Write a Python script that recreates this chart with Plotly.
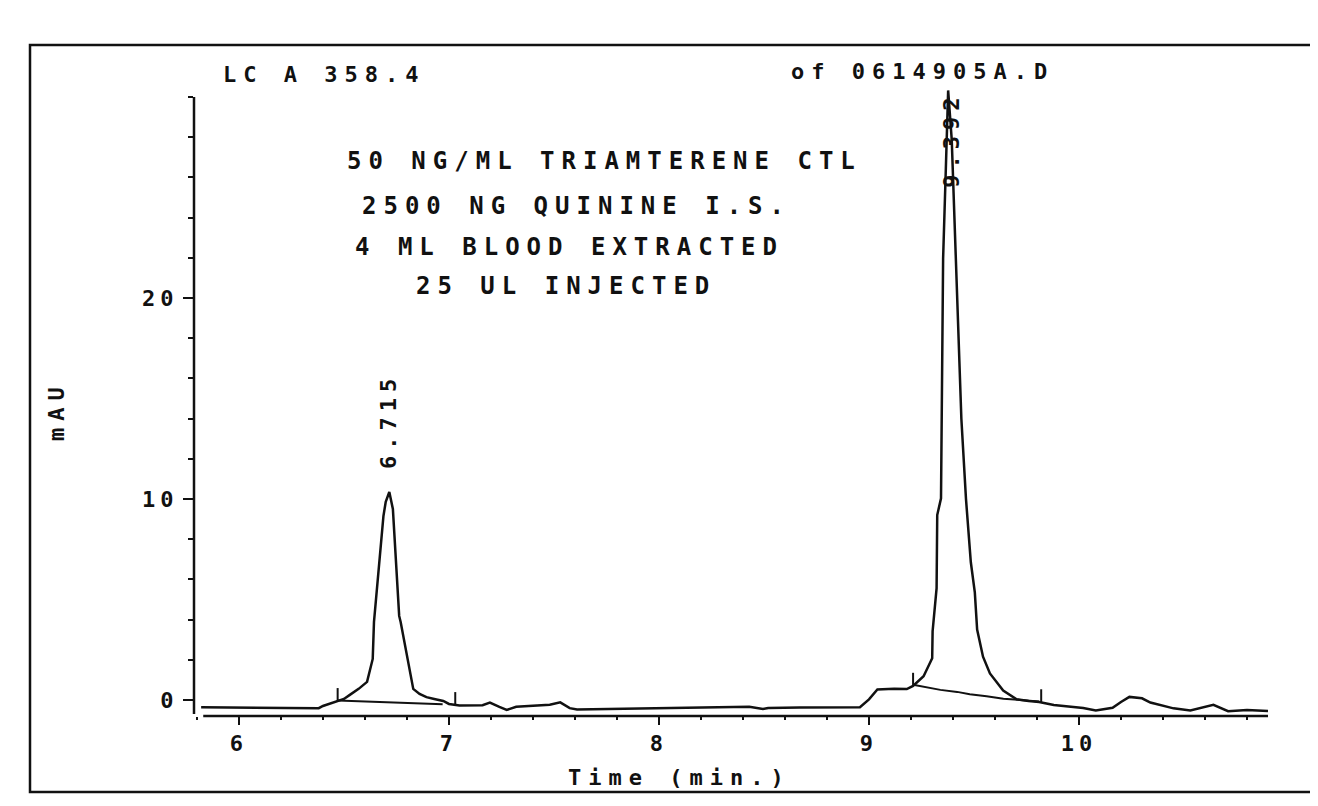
import plotly.graph_objects as go

# ---- data (time in min, signal in mAU) ----
time_min = [5.82, 5.95, 6.10, 6.25, 6.38, 6.40, 6.43, 6.47, 6.50, 6.528, 6.57, 6.61,
            6.637, 6.643, 6.655, 6.666, 6.678, 6.688, 6.699, 6.716, 6.733, 6.740,
            6.747, 6.758, 6.763, 6.77, 6.804, 6.83, 6.86, 6.893, 6.93, 6.973,
            7.00, 7.05, 7.16, 7.195, 7.24, 7.275, 7.32, 7.48, 7.53, 7.575, 7.61,
            7.80, 7.955, 8.20, 8.43, 8.495, 8.52, 8.67, 8.80, 8.957, 9.00, 9.04,
            9.12, 9.18, 9.21, 9.26, 9.301, 9.303, 9.322, 9.325, 9.343, 9.353,
            9.366, 9.377, 9.394, 9.407, 9.411, 9.427, 9.440, 9.462, 9.473, 9.485,
            9.504, 9.515, 9.543, 9.576, 9.639, 9.703, 9.76, 9.81, 9.88, 9.95,
            10.02, 10.08, 10.16, 10.20, 10.24, 10.30, 10.34, 10.45, 10.53, 10.64,
            10.71, 10.80, 10.90]
signal_mau = [-0.37, -0.38, -0.39, -0.40, -0.41, -0.30, -0.20, -0.06, 0.05, 0.25, 0.55, 0.90,
              2.04, 3.88, 5.37, 6.67, 8.00, 9.15, 9.86, 10.35, 9.50, 8.36,
              7.16, 5.37, 4.18, 3.88, 2.04, 0.55, 0.30, 0.14, 0.05, -0.05,
              -0.20, -0.28, -0.26, -0.13, -0.35, -0.50, -0.34, -0.24, -0.12, -0.41, -0.48,
              -0.44, -0.41, -0.38, -0.34, -0.45, -0.40, -0.38, -0.37, -0.36, 0.03, 0.52,
              0.55, 0.54, 0.70, 1.18, 2.07, 3.42, 5.56, 9.20, 10.03, 21.97,
              26.45, 30.33, 27.90, 24.00, 22.00, 17.96, 13.98, 9.99, 8.49, 6.85,
              5.35, 3.50, 2.15, 1.32, 0.47, 0.03, -0.05, -0.10, -0.25, -0.31,
              -0.40, -0.53, -0.39, -0.10, 0.15, 0.08, -0.13, -0.42, -0.53, -0.24,
              -0.56, -0.50, -0.55]

# integration baselines
base1_time = [6.47, 6.97]
base1_mau = [-0.03, -0.22]
base2_time = [9.21, 9.28, 9.34, 9.42, 9.48, 9.56, 9.64, 9.72, 9.81]
base2_mau = [0.75, 0.62, 0.50, 0.40, 0.28, 0.18, 0.06, 0.00, -0.08]

# peak start/stop event marks
event_time = [6.47, 7.03, 9.21, 9.82]
event_base = [-0.06, -0.26, 0.70, -0.12]
event_height = 0.65

# peak retention-time labels
peak_rt = [6.715, 9.392]
peak_label = ["6.715", "9.392"]
peak_label_y = [11.4, 25.4]

x_ticks = [6, 7, 8, 9, 10]
x_ticktext = ["6", "7", "8", "9", "10"]
y_ticks = [0, 10, 20]
y_ticktext = ["0", "10", "20"]

title_left = "LC A 358.4"
title_right = "of 0614905A.D"
notes = ["50 NG/ML TRIAMTERENE CTL", "2500 NG QUININE I.S.",
         "4 ML BLOOD EXTRACTED", "25 UL INJECTED"]
x_title = "Time (min.)"
y_title = "mAU"

# ---- layout geometry (page pixels; the page body adds an 8 px offset) ----
OFF = 8
W_FIG, H_FIG = 1318 - OFF, 806 - OFF
L = 194 - OFF
T = 77 - OFF
PLOT_RIGHT = 1268 - OFF
PLOT_BOTTOM = 716 - OFF
R = W_FIG - PLOT_RIGHT
B = H_FIG - PLOT_BOTTOM
PW = PLOT_RIGHT - L
PH = PLOT_BOTTOM - T
X_RANGE = [5.786, 10.90]
Y_RANGE = [-0.8, 31.0]

FONT = "DejaVu Sans Mono"
INK = "#111111"


def px(x):
    return (x - OFF - L) / PW


def py(y):
    return (PLOT_BOTTOM - (y - OFF)) / PH


def spaced(s, ls=7):
    return f'<span style="letter-spacing:{ls}px">{s}</span>'


fig = go.Figure()
fig.add_trace(go.Scatter(x=time_min, y=signal_mau, mode="lines",
                         line=dict(color=INK, width=2.5), hoverinfo="skip",
                         showlegend=False))
fig.add_trace(go.Scatter(x=base1_time, y=base1_mau, mode="lines",
                         line=dict(color=INK, width=2), hoverinfo="skip",
                         showlegend=False))
fig.add_trace(go.Scatter(x=base2_time, y=base2_mau, mode="lines",
                         line=dict(color=INK, width=2), hoverinfo="skip",
                         showlegend=False))
ex, ey = [], []
for t, b in zip(event_time, event_base):
    ex += [t, t, None]
    ey += [b, b + event_height, None]
fig.add_trace(go.Scatter(x=ex, y=ey, mode="lines",
                         line=dict(color=INK, width=2), hoverinfo="skip",
                         showlegend=False))

FONT_SMALL = dict(family=FONT, size=22, color=INK, weight="bold")
FONT_NOTE = dict(family=FONT, size=24, color=INK, weight="bold")

annotations = []
for t, lab, yl in zip(peak_rt, peak_label, peak_label_y):
    annotations.append(dict(x=t, y=yl, xref="x", yref="y", text=spaced(lab, 6),
                            textangle=-90, showarrow=False, xanchor="center",
                            yanchor="bottom", font=FONT_SMALL))


def page_text(s, x, y, font, angle=0, ls=7):
    return dict(x=px(x), y=py(y), xref="paper", yref="paper", text=spaced(s, ls),
                textangle=angle, showarrow=False, xanchor="center",
                yanchor="middle", font=font)


annotations.append(page_text(title_left, 324, 75, FONT_SMALL))
annotations.append(page_text(title_right, 922, 71, FONT_SMALL))
note_pos = [(604, 161), (576, 206), (569, 247), (566, 286)]
for s, (xx, yy) in zip(notes, note_pos):
    annotations.append(page_text(s, xx, yy, FONT_NOTE))
annotations.append(page_text(x_title, 679, 777, FONT_SMALL))
annotations.append(page_text(y_title, 56, 411, FONT_SMALL, angle=-90))

shapes = [
    # y axis line
    dict(type="line", xref="paper", yref="y", x0=0, x1=0, y0=Y_RANGE[0] + 0.1, y1=30,
         line=dict(color=INK, width=2.5)),
    # x axis line
    dict(type="line", xref="x", yref="paper", x0=5.83, x1=10.90, y0=0, y1=0,
         line=dict(color=INK, width=2.5)),
    # page border
    dict(type="rect", xref="paper", yref="paper", x0=px(30), x1=px(1345),
         y0=py(792), y1=py(45), line=dict(color=INK, width=2.5)),
]

fig.update_layout(
    width=W_FIG, height=H_FIG,
    margin=dict(l=L, r=R, t=T, b=B, autoexpand=False),
    paper_bgcolor="white", plot_bgcolor="white",
    showlegend=False,
    annotations=annotations,
    shapes=shapes,
    xaxis=dict(range=X_RANGE, showgrid=False, zeroline=False, showline=False,
               automargin=False,
               tickvals=x_ticks, ticktext=[spaced(s, 5) for s in x_ticktext],
               ticks="outside", ticklen=8, tickwidth=2, tickcolor=INK,
               tickfont=FONT_SMALL,
               minor=dict(dtick=0.2, tick0=6, ticks="outside", ticklen=3,
                          tickwidth=1.5, tickcolor=INK, showgrid=False)),
    yaxis=dict(range=Y_RANGE, showgrid=False, zeroline=False, showline=False,
               automargin=False,
               tickvals=y_ticks, ticktext=[spaced(s, 5) for s in y_ticktext],
               ticks="outside", ticklen=10, tickwidth=2, tickcolor=INK,
               tickfont=FONT_SMALL,
               minor=dict(dtick=2, tick0=0, ticks="outside", ticklen=5,
                          tickwidth=1.5, tickcolor=INK, showgrid=False)),
)

fig.write_html("out.html")
